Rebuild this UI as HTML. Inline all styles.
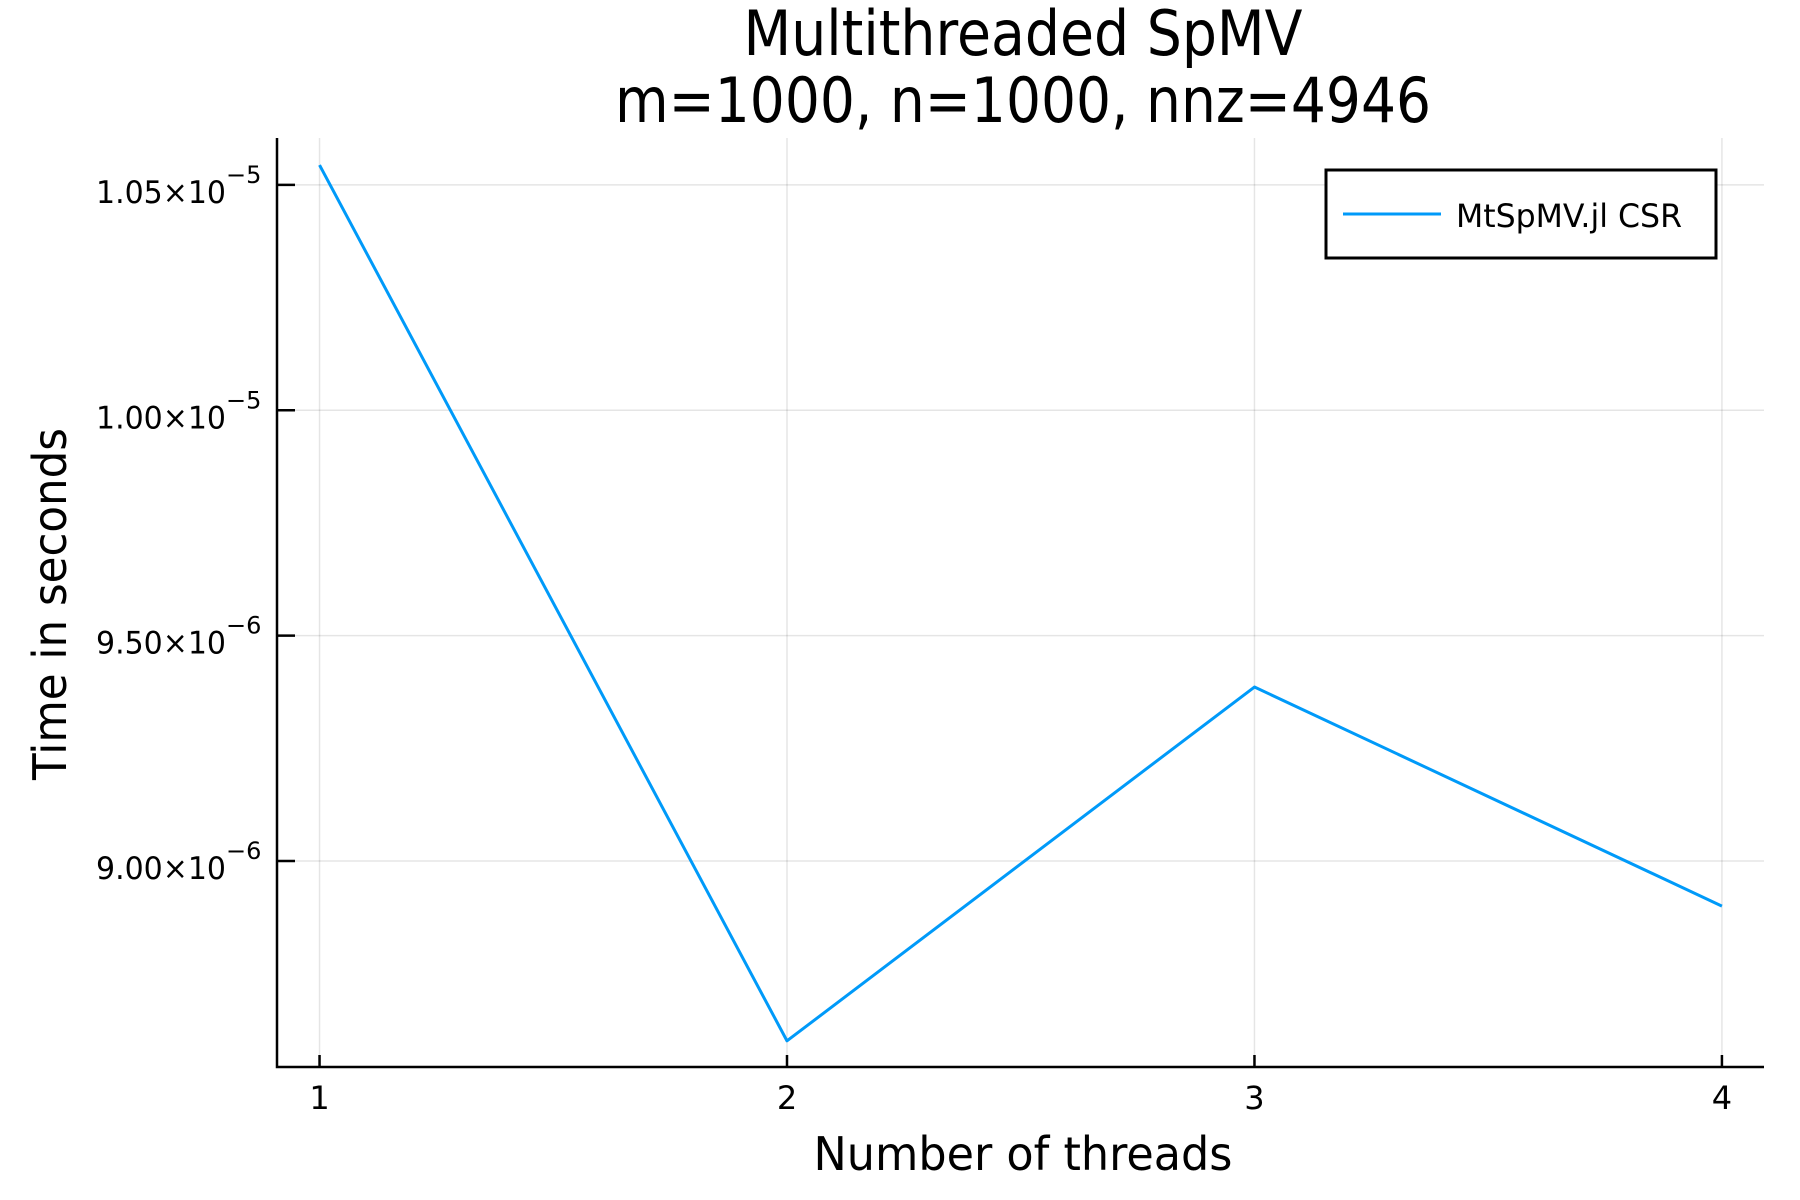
<!DOCTYPE html>
<html><head><meta charset="utf-8"><style>
html,body{margin:0;padding:0;background:#fff;}
svg{display:block;font-family:"DejaVu Sans","Liberation Sans",sans-serif;}
</style></head><body>
<svg id="chart" width="1800" height="1200" viewBox="0 0 1800 1200">
<rect width="1800" height="1200" fill="#fff"/>
<text x="1023" y="55" font-size="62" text-anchor="middle" textLength="559" lengthAdjust="spacingAndGlyphs">Multithreaded SpMV</text>
<text x="1023" y="122" font-size="62" text-anchor="middle" textLength="816" lengthAdjust="spacingAndGlyphs">m=1000, n=1000, nnz=4946</text>
<g id="grid"></g>
<g id="axes"></g>
<g id="series"></g>
<text x="1023" y="1170" font-size="46" text-anchor="middle" textLength="419" lengthAdjust="spacingAndGlyphs">Number of threads</text>
<text transform="translate(66,604) rotate(-90)" font-size="46" text-anchor="middle" textLength="352" lengthAdjust="spacingAndGlyphs">Time in seconds</text>
<g>
<rect x="1326" y="170" width="390" height="88" fill="#fff" stroke="#000" stroke-width="3"/>
<line x1="1343" y1="214" x2="1441" y2="214" stroke="#009AF9" stroke-width="3"/>
<text x="1456" y="227" font-size="32" textLength="226" lengthAdjust="spacingAndGlyphs">MtSpMV.jl CSR</text>
</g>
</svg>
<script>
const threads = [1, 2, 3, 4];
const times = [1.0544e-5, 8.601e-6, 9.386e-6, 8.900e-6];
const xTicks = [1, 2, 3, 4];
const yTicks = [9.0e-6, 9.5e-6, 1.0e-5, 1.05e-5];
const yTickMantissa = ["9.00", "9.50", "1.00", "1.05"];
const yTickExp = ["−6", "−6", "−5", "−5"];

const L = 277, R = 1764, T = 138, B = 1067;
const xMin = 0.909, xMax = 4.090, yMin = 8.543e-6, yMax = 1.0604e-5;
const sx = v => L + (v - xMin) / (xMax - xMin) * (R - L);
const sy = v => B - (v - yMin) / (yMax - yMin) * (B - T);
const NS = "http://www.w3.org/2000/svg";
function mk(tag, attrs, parent) {
  const e = document.createElementNS(NS, tag);
  for (const k in attrs) e.setAttribute(k, attrs[k]);
  parent.appendChild(e);
  return e;
}
const grid = document.getElementById('grid');
const axes = document.getElementById('axes');
const series = document.getElementById('series');

xTicks.forEach(t => {
  const g = mk('line', {x1: sx(t), x2: sx(t), y1: T, y2: B, stroke: '#000', 'stroke-opacity': 0.1, 'stroke-width': 1.5}, grid);
  
  
  const tk = mk('line', {x1: sx(t), x2: sx(t), y1: B, y2: B - 12, stroke: '#000', 'stroke-width': 2.5}, axes);
  
  
  const lb = mk('text', {x: sx(t), y: B + 42, 'font-size': 32, 'text-anchor': 'middle'}, axes);
  lb.textContent = t;
  
  
});
yTicks.forEach((t, i) => {
  const g = mk('line', {x1: L, x2: R, y1: sy(t), y2: sy(t), stroke: '#000', 'stroke-opacity': 0.1, 'stroke-width': 1.5}, grid);
  
  
  const tk = mk('line', {x1: L, x2: L + 18, y1: sy(t), y2: sy(t), stroke: '#000', 'stroke-width': 2.5}, axes);
  
  
  const lb = mk('text', {x: 96, y: sy(t) + 18, 'font-size': 31}, axes);
  
  
  const m = mk('tspan', {textLength: 130, lengthAdjust: 'spacingAndGlyphs'}, lb);
  m.textContent = yTickMantissa[i] + "×10";
  const s = mk('tspan', {dy: -20, 'font-size': 24}, lb);
  s.textContent = yTickExp[i];
});
const ax = mk('path', {d: `M${L},${T} L${L},${B} L${R},${B}`, fill: 'none', stroke: '#000', 'stroke-width': 2.5}, axes);


const pts = threads.map((x, i) => `${sx(x)},${sy(times[i])}`).join(' ');
const pl = mk('polyline', {points: pts, fill: 'none', stroke: '#009AF9', 'stroke-width': 3, 'stroke-linejoin': 'round'}, series);


</script>
</body></html>
